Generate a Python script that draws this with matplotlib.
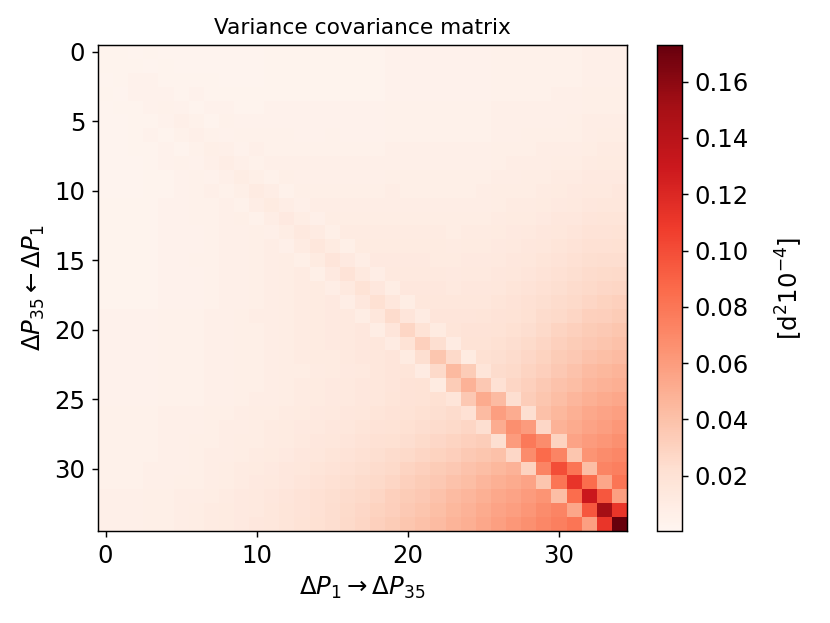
import matplotlib
matplotlib.use('Agg')
import matplotlib.pyplot as plt
import numpy as np


# Values, in units of 1e-3 [d^2 10^-4]
# variances (main diagonal), P_1 ... P_35
variance = [3, 3, 4, 4, 5, 6, 6, 7, 8, 9,
            10, 11, 12, 13, 15, 16, 18, 19, 21, 24,
            28, 31, 37, 44, 48, 52, 59, 67, 78, 86,
            100, 112, 130, 151, 173]
# covariance with the next period (first off-diagonal)
cov_lag1 = [3, 3, 4, 4, 4, 5, 5, 6, 6, 7,
            8, 8, 9, 10, 11, 12, 13, 14, 15, 16,
            19, 22, 26, 34, 36, 43, 51, 60, 68, 72,
            80, 85, 95, 111]
# covariance two periods apart (second off-diagonal, the light band)
cov_lag2 = [2, 2, 3, 3, 3, 3, 4, 4, 5, 5,
            5, 6, 6, 7, 7, 8, 8, 9, 9, 10,
            11, 10, 11, 17, 20, 22, 22, 27, 30, 37,
            42, 55, 58]
# everything further away: row j holds columns 0 .. j-3 (lower triangle)
background_rows = [
    [3],
    [2, 3],
    [2, 2, 3],
    [2, 2, 3, 4],
    [2, 2, 3, 3, 4],
    [2, 2, 2, 3, 4, 5],
    [2, 2, 2, 3, 3, 4, 5],
    [2, 2, 2, 3, 3, 4, 5, 6],
    [3, 3, 3, 3, 4, 4, 5, 5, 6],
    [3, 3, 3, 3, 4, 4, 5, 5, 6, 7],
    [3, 3, 3, 3, 4, 4, 4, 5, 6, 6, 7],
    [3, 3, 3, 3, 4, 4, 4, 5, 6, 6, 7, 8],
    [3, 3, 3, 3, 4, 4, 5, 5, 6, 6, 7, 8, 9],
    [3, 3, 3, 3, 4, 4, 4, 5, 6, 6, 7, 8, 9, 10],
    [3, 3, 3, 3, 4, 4, 4, 5, 6, 6, 7, 8, 9, 10, 11],
    [3, 3, 3, 3, 4, 4, 4, 5, 6, 6, 7, 8, 9, 10, 11, 12],
    [4, 4, 4, 4, 5, 5, 5, 6, 6, 7, 8, 8, 9, 10, 11, 12, 13],
    [4, 4, 4, 4, 5, 5, 5, 6, 6, 7, 7, 8, 9, 10, 11, 12, 13, 14],
    [4, 4, 4, 4, 5, 5, 5, 6, 6, 7, 7, 8, 9, 10, 11, 12, 13, 14, 15],
    [4, 4, 4, 4, 5, 5, 5, 6, 6, 7, 7, 8, 9, 10, 11, 11, 13, 14, 15, 16],
    [4, 4, 4, 4, 5, 5, 5, 6, 6, 7, 7, 8, 9, 9, 10, 11, 12, 13, 15, 16, 17],
    [4, 4, 4, 4, 5, 5, 5, 6, 6, 7, 7, 8, 9, 10, 11, 12, 13, 14, 15, 16, 18, 19],
    [4, 4, 4, 4, 5, 5, 5, 6, 6, 7, 8, 8, 9, 10, 11, 12, 13, 14, 15, 17, 18, 19, 21],
    [5, 5, 5, 5, 6, 6, 6, 7, 7, 8, 9, 9, 10, 11, 12, 13, 14, 15, 17, 18, 19, 21,
     22, 24],
    [5, 5, 5, 5, 6, 6, 6, 7, 8, 8, 9, 10, 11, 12, 13, 14, 15, 17, 18, 19, 21, 23,
     24, 26, 28],
    [5, 5, 5, 5, 6, 6, 7, 7, 8, 9, 9, 10, 11, 13, 14, 15, 16, 18, 20, 21, 23, 25,
     27, 29, 31, 33],
    [5, 5, 5, 5, 6, 6, 7, 8, 8, 9, 10, 11, 12, 14, 15, 17, 18, 20, 22, 24, 26, 28,
     30, 32, 35, 37, 40],
    [5, 5, 5, 6, 6, 6, 7, 8, 9, 10, 11, 12, 14, 15, 17, 18, 20, 22, 24, 26, 29, 31,
     34, 36, 39, 42, 45, 48],
    [5, 5, 5, 6, 6, 7, 7, 8, 9, 10, 12, 13, 14, 16, 18, 20, 22, 24, 26, 28, 31, 34,
     36, 39, 42, 46, 49, 52, 56],
    [6, 6, 6, 7, 7, 8, 8, 9, 10, 12, 13, 14, 16, 18, 20, 22, 24, 26, 28, 31, 34, 36,
     39, 43, 46, 49, 53, 56, 60, 64],
    [6, 6, 6, 7, 7, 8, 9, 10, 11, 12, 13, 15, 17, 18, 20, 23, 25, 27, 30, 32, 35, 38,
     41, 45, 48, 52, 56, 59, 63, 68, 72],
    [6, 6, 6, 7, 7, 8, 9, 10, 11, 12, 14, 15, 17, 19, 21, 23, 26, 28, 31, 34, 37, 40,
     43, 47, 50, 54, 58, 62, 66, 71, 75, 80],
]

x_ticks = [0, 10, 20, 30]
y_ticks = [0, 5, 10, 15, 20, 25, 30]
color_low = 0.0004

# Build the symmetric matrix
n = len(variance)
cov = np.zeros((n, n))
for j, row in enumerate(background_rows, start=3):
    cov[j, :len(row)] = row
cov = cov + cov.T
for k, lag in [(1, cov_lag1), (2, cov_lag2)]:
    idx = np.arange(n - k)
    cov[idx, idx + k] = lag
    cov[idx + k, idx] = lag
cov[np.arange(n), np.arange(n)] = variance
cov = cov * 1e-3

# Plot
fig = plt.figure(figsize=(830 / 130, 623 / 130), dpi=130)
ax = fig.add_axes([98 / 830, 92 / 623, 529 / 830, 486 / 623])
cax = fig.add_axes([657 / 830, 92 / 623, 25 / 830, 486 / 623])

im = ax.imshow(cov, cmap='Reds', aspect='auto', vmin=color_low, vmax=cov.max())
ax.set_xticks(x_ticks)
ax.set_yticks(y_ticks)
ax.tick_params(labelsize=13.5)
ax.set_title('Variance covariance matrix', fontsize=12)
ax.set_xlabel(r'$\Delta P_1 \rightarrow \Delta P_{35}$', fontsize=13.5)
ax.set_ylabel(r'$\Delta P_{35} \leftarrow \Delta P_1$', fontsize=13.5)

cb = fig.colorbar(im, cax=cax)
cb.ax.tick_params(labelsize=13.5)
cb.set_label(r'[d$^2 10^{-4}$]', fontsize=13.5, labelpad=14)

fig.savefig('out.png', dpi=130)
